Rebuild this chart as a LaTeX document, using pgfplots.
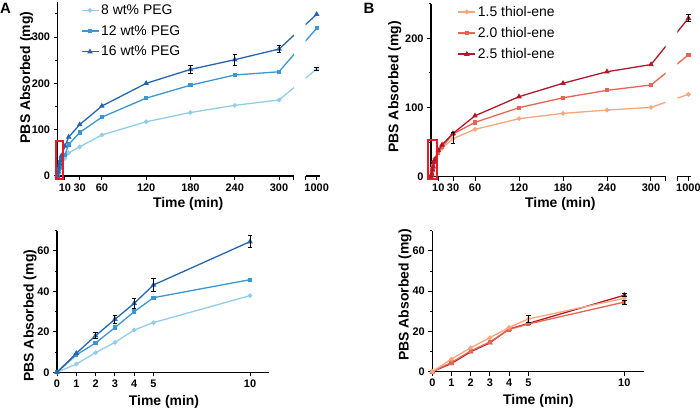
\documentclass[border=0pt]{standalone}
\usepackage{fontspec}
\setmainfont{Liberation Sans}
\usepackage{pgfplots}
\pgfplotsset{compat=1.18}
\usepackage{pgfplotstable}

\definecolor{pegA}{RGB}{145,205,235}
\definecolor{pegB}{RGB}{58,150,212}
\definecolor{pegC}{RGB}{36,102,176}
\definecolor{thA}{RGB}{248,166,122}
\definecolor{thB}{RGB}{232,100,82}
\definecolor{thC}{RGB}{178,24,43}
\definecolor{boxred}{RGB}{235,25,35}

% top panels: 0-300 min, then the 1000 min point after the break
\pgfplotstableread{
t y
0 0
1 4.1
2 9.7
3 14.8
4 20.9
5 24.6
10 37.9
15 50
30 63
60 88.5
120 117
180 137
240 152.5
300 164
1000 231
}\pegeight
\pgfplotstableread{
t y
0 0
1 8.6
2 14.5
3 22.1
4 30
5 36.9
10 45.8
15 68
30 94
60 127
120 168
180 196
240 218
300 225
1000 319
}\pegtwelve
\pgfplotstableread{
t y
0 0
1 9.4
2 18.1
3 26.2
4 34.1
5 43.2
10 64.6
15 84
30 111
60 151
120 200
180 230
240 251
300 274
1000 349
}\pegsixteen
\pgfplotstableread{
t y e
180 230 8
240 251 12
300 274 8
1000 231 4
}\pegerr

\pgfplotstableread{
t y
0 0
1 6.3
2 11.9
3 16.9
4 22
5 26.2
10 36.5
15 41
30 55
60 68.4
120 83.8
180 91.5
240 96.3
300 100.2
1000 119
}\thfifteen
\pgfplotstableread{
t y
0 0
1 4.6
2 10.3
3 14.8
4 21
5 23.7
10 34.6
15 43
30 61.7
60 78.5
120 99.7
180 114
240 124.8
300 132.5
1000 176
}\thtwenty
\pgfplotstableread{
t y
0 0
1 4.1
2 9.9
3 14.4
4 21.2
5 24
10 38
15 46
30 62.6
60 88
120 115.6
180 135
240 151.7
300 162
1000 229
}\thtwentyfive
\pgfplotstableread{
t y e
30 56 8
1000 229 5
}\therr

% close-up, first 10 min
\pgfplotstableread{
t a b c
0 0 0 0
1 4.1 8.6 9.4
2 9.7 14.5 18.1
3 14.8 22.1 26.2
4 20.9 30 34.1
5 24.6 36.9 43.2
10 37.9 45.8 64.6
}\pegshort
\pgfplotstableread{
t y e
2 18.1 1.5
3 26.2 2
4 34.1 2.5
5 43.2 3
10 64.6 3
}\pegshorterr
\pgfplotstableread{
t a b c
0 0 0 0
1 6.3 4.6 4.1
2 11.9 10.3 9.9
3 16.9 14.8 14.4
4 22 21 21.2
5 26.2 23.7 24
10 36.5 34.6 38
}\thshort
\pgfplotstableread{
t y e
5 26.2 1.5
10 38 0.8
10 34.6 1
}\thshorterr

\pgfplotsset{
  every axis/.append style={
    scale only axis,
    clip mode=individual,
    axis line style={line width=1.2bp},
    tick style={black, line width=1bp},
    tick align=outside,
    major tick length=4bp,
    minor tick length=2.5bp,
    tick label style={font=\fontsize{11}{11}\selectfont\bfseries},
    label style={font=\fontsize{14}{14}\selectfont\bfseries},
    /pgf/number format/assume math mode=true,
    ymin=0,
  },
  brk/.style={
    x coord trafo/.code={\pgfmathparse{##1>500 ? ##1-649 : ##1}},
    x coord inv trafo/.code={\pgfmathparse{##1>340 ? ##1+649 : ##1}},
  },
  seg1/.style={axis x line*=bottom, axis y line*=left, xmin=0, xmax=320,
    xtick={10,30,60,120,180,240,300,320},
    xticklabels={10,30,60,120,180,240,300,{}}},
  seg2/.style={axis x line*=bottom, axis y line=none, xmin=985, xmax=1004,
    xtick={985,1000}, xticklabels={{},1000}},
  lgd/.style={legend style={at={(axis description cs:#1,1.01)}, anchor=north west,
    draw=none, fill=none, font=\fontsize{14}{14}\selectfont, row sep=5.5bp},
    legend cell align=left},
  ln/.style={line width=1.3bp},
  circ/.style={ln, mark=*, mark size=1.6bp},
  sq/.style={ln, mark=square*, mark size=1.5bp},
  tri/.style={ln, mark=triangle*, mark size=2bp},
  errs/.style={draw=none, mark=none, forget plot,
    error bars/.cd, y dir=both, y explicit,
    error bar style={draw=black, line width=1bp},
    error mark options={rotate=90, draw=black, mark size=2.2bp, line width=1bp}},
}

\newcommand\pegplots{%
  \addplot[pegA, circ] table[x=t,y=y]{\pegeight};
  \addplot[pegB, sq] table[x=t,y=y]{\pegtwelve};
  \addplot[pegC, tri] table[x=t,y=y]{\pegsixteen};
  \addplot[errs] table[x=t,y=y,y error=e]{\pegerr};
}
\newcommand\thplots{%
  \addplot[thA, circ] table[x=t,y=y]{\thfifteen};
  \addplot[thB, sq] table[x=t,y=y]{\thtwenty};
  \addplot[thC, tri] table[x=t,y=y]{\thtwentyfive};
  \addplot[errs] table[x=t,y=y,y error=e]{\therr};
}

\begin{document}
\begin{tikzpicture}
\useasboundingbox (0,0) rectangle (700bp,409bp);

\node[font=\fontsize{15}{15}\selectfont\bfseries] at (5.5bp,401bp) {A};
\node[font=\fontsize{15}{15}\selectfont\bfseries] at (369bp,401bp) {B};

% A, top, left of the break
\begin{axis}[brk, seg1, at={(57.6bp,233bp)}, anchor=south west,
  x=0.738bp, y=0.4633bp, ymax=375,
  ytick={0,100,200,300}, minor ytick={50,150,250,350},
  xlabel={Time (min)}, ylabel={PBS Absorbed (mg)},
  xlabel style={at={(axis description cs:0.553,-0.161)}, anchor=center},
  ylabel style={at={(axis description cs:-0.132,0.567)}, anchor=center},
  lgd=0.085]
\pegplots
\legend{8 wt\% PEG, 12 wt\% PEG, 16 wt\% PEG}
\draw[boxred, line width=2bp] (axis cs:-2.6,-7) rectangle (axis cs:6.9,75.5);
\end{axis}
% A, top, right of the break
\begin{axis}[brk, seg2, at={(305.6bp,233bp)}, anchor=south west,
  x=0.738bp, y=0.4633bp, ymax=375]
\pegplots
\end{axis}

% B, top, left of the break
\begin{axis}[brk, seg1, at={(431bp,232.3bp)}, anchor=south west,
  x=0.7333bp, y=0.692bp, ymax=250,
  ytick={0,100,200}, minor ytick={50,150,250},
  xlabel={Time (min)}, ylabel={PBS Absorbed (mg)},
  xlabel style={at={(axis description cs:0.551,-0.158)}, anchor=center},
  ylabel style={at={(axis description cs:-0.154,0.52)}, anchor=center},
  lgd=0.10]
\thplots
\legend{1.5 thiol-ene, 2.0 thiol-ene, 2.5 thiol-ene}
\draw[boxred, line width=2bp] (axis cs:-3.7,-3.8) rectangle (axis cs:8.6,53);
\end{axis}
% B, top, right of the break
\begin{axis}[brk, seg2, at={(677.4bp,232.3bp)}, anchor=south west,
  x=0.7333bp, y=0.692bp, ymax=250]
\thplots
\end{axis}

% A, close-up
\begin{axis}[at={(57bp,36.7bp)}, anchor=south west,
  axis x line*=bottom, axis y line*=left,
  x=19.3bp, y=2.022bp, xmin=0, xmax=11, ymax=70,
  xtick={0,1,2,3,4,5,10}, ytick={0,20,40,60}, minor ytick={10,30,50,70},
  xlabel={Time (min)}, ylabel={PBS Absorbed (mg)},
  xlabel style={at={(axis description cs:0.504,-0.208)}, anchor=center},
  ylabel style={at={(axis description cs:-0.127,0.40)}, anchor=center}]
\addplot[pegA, circ] table[x=t,y=a]{\pegshort};
\addplot[pegB, sq] table[x=t,y=b]{\pegshort};
\addplot[pegC, tri] table[x=t,y=c]{\pegshort};
\addplot[errs] table[x=t,y=y,y error=e]{\pegshorterr};
\end{axis}

% B, close-up
\begin{axis}[at={(432.3bp,37.3bp)}, anchor=south west,
  axis x line*=bottom, axis y line*=left,
  x=19.2bp, y=2.012bp, xmin=0, xmax=11, ymax=70,
  xtick={0,1,2,3,4,5,10}, ytick={0,20,40,60}, minor ytick={10,30,50,70},
  xlabel={Time (min)}, ylabel={PBS Absorbed (mg)},
  xlabel style={at={(axis description cs:0.502,-0.206)}, anchor=center},
  ylabel style={at={(axis description cs:-0.129,0.545)}, anchor=center}]
\addplot[thC, tri] table[x=t,y=c]{\thshort};
\addplot[thB, sq] table[x=t,y=b]{\thshort};
\addplot[thA, circ] table[x=t,y=a]{\thshort};
\addplot[errs] table[x=t,y=y,y error=e]{\thshorterr};
\end{axis}
\end{tikzpicture}
\end{document}
